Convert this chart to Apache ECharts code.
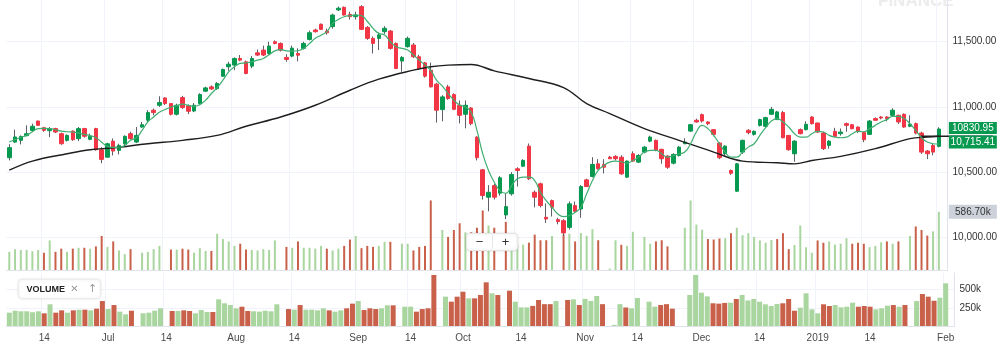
<!DOCTYPE html>
<html>
<head>
<meta charset="utf-8">
<script src="https://cdn.jsdelivr.net/npm/echarts@6/dist/echarts.min.js"></script>
<style>
  html, body { margin: 0; padding: 0; background: #fff; }
  #chart { width: 1000px; height: 351px; }
</style>
</head>
<body>
<div id="chart"></div>
<script>
// daily bars, oldest first
const openP = [10611,10731,10744,10780,10820,10892,10841,10818,10834,10795,10744,10815,10757,10834,10752,10834,10672,10615,10738,10667,
  10718,10795,10731,10846,10898,10975,11013,11069,11026,10944,11072,11011,10969,11026,11121,11154,11141,11236,11308,11321,
  11372,11346,11313,11415,11436,11410,11500,11487,11380,11390,11410,11449,11518,11590,11634,11582,11616,11744,11764,11710,
  11692,11769,11610,11526,11526,11577,11582,11487,11352,11462,11475,11385,11338,11282,11175,10980,11154,11095,11013,10944,
  10992,10769,10518,10308,10397,10339,10172,10334,10526,10546,10700,10346,10411,10154,10282,10136,10128,10077,10244,10218,
  10441,10467,10564,10559,10615,10621,10615,10462,10641,10577,10654,10738,10744,10675,10623,10569,10628,10718,10815,10898,
  10941,10885,10826,10723,10641,10513,10354,10654,10821,10790,10859,10852,10944,10903,10957,10782,10641,10826,10826,10923,
  10877,10800,10705,10813,10795,10872,10864,10846,10805,10790,10911,10923,10923,10936,10936,10944,10852,10872,10800,10662,
  10705,10698];
const closeP = [10688,10770,10774,10795,10852,10859,10821,10834,10808,10718,10782,10749,10834,10775,10775,10672,10598,10718,10662,10705,
  10775,10757,10782,10864,10957,10957,11034,11026,10944,11013,10995,10967,11013,11095,11146,11138,11180,11287,11328,11372,
  11359,11257,11372,11398,11398,11467,11487,11436,11364,11451,11397,11487,11569,11577,11595,11569,11705,11757,11705,11692,
  11705,11595,11526,11487,11552,11603,11449,11295,11380,11526,11385,11295,11236,11154,10975,11077,11065,10982,10936,11013,
  10872,10611,10321,10346,10308,10457,10236,10482,10513,10590,10449,10308,10244,10141,10231,10121,10034,10257,10200,10390,
  10390,10559,10526,10538,10603,10603,10487,10585,10585,10628,10692,10769,10667,10603,10538,10636,10692,10731,10864,10885,
  10892,10872,10790,10611,10700,10492,10564,10744,10803,10813,10903,10918,10982,10962,10764,10672,10738,10795,10867,10872,
  10808,10680,10738,10775,10808,10859,10833,10813,10749,10892,10898,10915,10911,10975,10885,10846,10867,10800,10654,10641,
  10654,10830.95];
const lowP = [10590,10723,10713,10775,10808,10855,10810,10769,10800,10710,10735,10740,10738,10765,10745,10665,10569,10610,10628,10636,
  10705,10750,10723,10840,10880,10936,11000,11015,10935,10935,10985,10945,10960,11020,11115,11130,11130,11230,11277,11282,
  11350,11250,11297,11390,11390,11400,11480,11425,11346,11380,11350,11440,11510,11570,11590,11555,11600,11735,11700,11670,
  11670,11590,11515,11410,11437,11560,11440,11290,11270,11455,11375,11285,11225,11150,10880,10890,11055,10975,10874,10836,
  10860,10590,10290,10200,10290,10320,10140,10320,10390,10540,10440,10230,10230,10110,10160,10100,10012,10060,10190,10150,
  10385,10460,10520,10490,10600,10590,10480,10455,10580,10570,10645,10730,10660,10565,10525,10560,10620,10715,10810,10880,
  10880,10860,10775,10600,10630,10480,10350,10640,10790,10780,10850,10845,10940,10900,10760,10665,10580,10790,10820,10865,
  10800,10670,10680,10770,10780,10810,10830,10800,10730,10785,10895,10905,10890,10930,10870,10840,10845,10790,10640,10600,
  10630,10690];
const highP = [10715,10826,10782,10859,10872,10895,10848,10846,10840,10803,10790,10820,10846,10840,10795,10840,10692,10725,10759,10718,
  10782,10810,10846,10885,10975,10988,11082,11075,11030,11025,11085,11020,11030,11105,11155,11165,11190,11295,11346,11380,
  11398,11355,11390,11440,11470,11500,11510,11495,11405,11470,11450,11500,11585,11600,11640,11600,11715,11770,11770,11730,
  11730,11780,11620,11540,11570,11620,11590,11495,11390,11540,11490,11400,11345,11340,11185,11090,11170,11105,11050,11050,
  11000,10775,10525,10400,10410,10470,10334,10500,10538,10600,10720,10360,10420,10260,10290,10150,10140,10275,10275,10400,
  10450,10615,10600,10600,10625,10630,10630,10590,10660,10640,10700,10780,10750,10680,10630,10645,10700,10760,10870,10910,
  10950,10890,10830,10730,10705,10520,10570,10750,10830,10820,10910,10925,11000,10970,10970,10785,10745,10835,10890,10930,
  10880,10810,10745,10840,10835,10880,10870,10850,10810,10900,10920,10930,10930,10990,10940,10950,10936,10880,10810,10670,
  10720,10845];
// volume in thousands, 0 = no volume reported
const volume = [183,210,202,202,189,202,174,298,183,215,183,215,224,224,215,238,343,233,288,197,
  160,210,0,174,183,210,243,0,206,206,215,206,174,220,192,192,366,312,288,243,
  265,206,202,197,210,202,298,0,233,224,288,224,224,215,243,215,197,215,243,307,
  343,220,243,233,243,284,284,0,265,265,197,233,243,701,0,403,334,403,471,380,
  380,426,600,449,426,0,485,334,256,256,276,357,300,300,343,0,357,366,288,373,
  345,412,300,0,15,300,254,243,385,0,334,265,288,300,238,0,0,426,701,458,
  407,312,307,317,320,371,426,351,371,334,298,275,302,312,371,210,252,449,229,174,
  298,275,288,256,265,320,265,275,265,229,243,279,288,265,288,0,343,439,403,347,
  389,586.7];
// fast (green) moving average, one value per bar
const maFast = [10731,10750,10768,10782,10810,10834,10836,10834,10825,10815,10810,10808,10800,10790,10780,10764,10730,10698,10690,10692,
  10705,10744,10764,10820,10885,10923,10960,10980,11000,11010,11021,11012,11005,11018,11052,11103,11149,11205,11269,11308,
  11334,11338,11346,11359,11372,11400,11430,11440,11430,11428,11431,11449,11487,11526,11550,11577,11641,11670,11692,11700,
  11705,11700,11657,11603,11564,11552,11500,11462,11449,11436,11398,11359,11321,11280,11205,11160,11103,11052,11015,11000,
  10960,10820,10641,10513,10423,10359,10338,10397,10449,10462,10462,10436,10346,10282,10231,10180,10159,10167,10192,10231,
  10334,10436,10513,10551,10577,10585,10580,10569,10590,10615,10654,10667,10667,10641,10615,10628,10641,10654,10718,10808,
  10859,10834,10782,10718,10654,10615,10615,10654,10692,10718,10782,10841,10892,10911,10885,10846,10795,10769,10769,10795,
  10813,10808,10782,10769,10764,10769,10795,10813,10810,10834,10859,10885,10903,10928,10928,10911,10872,10821,10764,10731,
  10718,10715.41];
// slow (black) moving average, read at these bars
const maSlowIdx = [0,4,10,14,18,24,30,36,41,47,53,59,64,70,73,76,80,84,90,96,100,104,110,116,122,127,133,136,139,144,150,156,159,161];
const maSlowVal = [10515,10585,10641,10672,10687,10718,10744,10782,10852,10923,11013,11128,11213,11282,11308,11321,11326,11277,11218,11149,
  11026,10949,10834,10744,10654,10585,10572,10564,10590,10621,10680,10757,10769,10775];
const tickIdx = [6,17,27,39,49,60,69,78,88,99,108,119,129,139,148,161];
const tickText = ['14','Jul','14','Aug','14','Sep','14','Oct','14','Nov','14','Dec','14','2019','14','Feb'];
const priceTicks = [10000,10500,11000,11500];
const volTicks = [250,500];

const UP = '#089950', DOWN = '#f23645', WICK = '#5d606b';
const VUP = '#a9d59f', VDOWN = '#c8604a';
const FONT = 'Liberation Sans, Arial, sans-serif';

const n = closeP.length;
const cats = [];
for (let i = 0; i <= n; i++) cats.push(String(i)); // one spare slot on the right

const wicks = openP.map((o, i) => [o, closeP[i], lowP[i], highP[i]]);
const bodies = openP.map((o, i) => [o, closeP[i], Math.min(o, closeP[i]), Math.max(o, closeP[i])]);
const volColor = (i) => (i === 0 || closeP[i] >= closeP[i - 1]) ? VUP : VDOWN;
const volOverlay = volume.map((v, i) => ({ value: v, itemStyle: { color: volColor(i) } }));
const volLower = volume.map((v, i) => ({ value: v, itemStyle: { color: volColor(i) } }));
const maSlow = maSlowIdx.map((idx, k) => [cats[idx], maSlowVal[k]]);

const fmt2 = (v) => v.toLocaleString('en-US', { minimumFractionDigits: 2, maximumFractionDigits: 2 });
const showTick = (i) => tickIdx.indexOf(i) >= 0;
const last = cats[n - 1];

const chart = echarts.init(document.getElementById('chart'));
const option = {
  animation: false,
  textStyle: { fontFamily: FONT },
  grid: [
    { left: 6.4, right: 45.6, top: 0, height: 270 },
    { left: 6.4, right: 45.6, top: 273, height: 53 }
  ],
  xAxis: [
    {
      type: 'category', gridIndex: 0, data: cats, boundaryGap: true,
      axisLine: { show: true, lineStyle: { color: '#e0e3eb' } },
      axisTick: { show: false }, axisLabel: { show: false },
      splitLine: { show: true, interval: showTick, lineStyle: { color: '#f0f3fa' } }
    },
    {
      type: 'category', gridIndex: 1, data: cats, boundaryGap: true,
      axisLine: { show: true, lineStyle: { color: '#e0e3eb' } },
      axisTick: { show: false },
      axisLabel: {
        interval: showTick, color: '#4a4a4a', fontSize: 10, margin: 7,
        formatter: (val, i) => tickText[tickIdx.indexOf(i)] || ''
      },
      splitLine: { show: true, interval: showTick, lineStyle: { color: '#f0f3fa' } }
    }
  ],
  yAxis: [
    {
      type: 'value', gridIndex: 0, position: 'right', min: 9750, max: 11820, scale: true,
      axisLine: { show: true, lineStyle: { color: '#e0e3eb' } },
      axisTick: { show: false, customValues: priceTicks },
      axisLabel: { customValues: priceTicks, color: '#333', fontSize: 10, margin: 5, formatter: fmt2 },
      splitLine: { show: true, lineStyle: { color: '#f0f3fa' } }
    },
    {
      type: 'value', gridIndex: 0, position: 'right', min: 0, max: 2722, show: false,
      splitLine: { show: false }
    },
    {
      type: 'value', gridIndex: 1, position: 'right', min: 0, max: 728,
      axisLine: { show: true, lineStyle: { color: '#e0e3eb' } },
      axisTick: { show: false, customValues: volTicks },
      axisLabel: { customValues: volTicks, color: '#333', fontSize: 10, margin: 5, formatter: (v) => v + 'k' },
      splitLine: { show: true, lineStyle: { color: '#f0f3fa' } }
    }
  ],
  series: [
    {
      type: 'bar', xAxisIndex: 0, yAxisIndex: 1, data: volOverlay, barWidth: 2, z: 1,
      markPoint: {
        symbol: 'rect', symbolSize: [48, 14], symbolOffset: [34, 0], silent: true,
        itemStyle: { color: '#cdd1da' },
        label: { show: true, color: '#333', fontSize: 10, formatter: (p) => p.value.toFixed(2) + 'k' },
        data: [{ coord: [last, volume[n - 1]], value: volume[n - 1] }]
      }
    },
    {
      type: 'candlestick', xAxisIndex: 0, yAxisIndex: 0, data: wicks, barWidth: 1, z: 2,
      itemStyle: { color: WICK, color0: WICK, borderColor: WICK, borderColor0: WICK, borderWidth: 1 }
    },
    {
      type: 'candlestick', xAxisIndex: 0, yAxisIndex: 0, data: bodies, barWidth: 4, z: 3,
      itemStyle: { color: UP, color0: DOWN, borderColor: UP, borderColor0: DOWN, borderWidth: 1 }
    },
    {
      type: 'line', xAxisIndex: 0, yAxisIndex: 0, data: maSlow, smooth: 0.4, showSymbol: false, z: 4,
      lineStyle: { color: '#1e1e1e', width: 1.4 },
      markPoint: {
        symbol: 'rect', symbolSize: [72, 1.5], symbolOffset: [18, 0], silent: true,
        itemStyle: { color: '#1e1e1e' }, label: { show: false },
        data: [{ coord: [last, maSlowVal[maSlowVal.length - 1]] }]
      }
    },
    {
      type: 'line', xAxisIndex: 0, yAxisIndex: 0, data: maFast, smooth: true, showSymbol: false, z: 5,
      lineStyle: { color: '#3fae70', width: 1.2 },
      markPoint: {
        symbol: 'rect', symbolSize: [48, 13], silent: true,
        itemStyle: { color: UP },
        label: { show: true, color: '#fff', fontSize: 10, formatter: (p) => fmt2(p.value) },
        data: [{ coord: [last, maFast[n - 1]], value: maFast[n - 1], symbolOffset: [34, -2] }]
      }
    },
    {
      type: 'line', xAxisIndex: 0, yAxisIndex: 0, data: [], z: 6,
      markPoint: {
        symbol: 'rect', symbolSize: [48, 12], silent: true,
        itemStyle: { color: UP },
        label: { show: true, color: '#fff', fontSize: 10, formatter: (p) => p.value.toFixed(2) },
        data: [{ coord: [last, closeP[n - 1]], value: closeP[n - 1], symbolOffset: [34, -1] }]
      }
    },
    {
      type: 'bar', xAxisIndex: 1, yAxisIndex: 2, data: volLower, barWidth: 5
    }
  ],
  graphic: [
    {
      type: 'text', left: 878, top: -7, z: 0, silent: true,
      style: { text: 'FINANCE', fill: '#ececec', font: 'bold 17px ' + FONT }
    },
    {
      type: 'group', left: 466, top: 233, z: 100,
      children: [
        { type: 'rect', z: 100, shape: { x: 0, y: 0, width: 51, height: 17, r: 3 },
          style: { fill: '#fff', stroke: '#e6e6e6', shadowBlur: 3, shadowColor: 'rgba(0,0,0,0.12)' } },
        { type: 'line', z: 101, shape: { x1: 26, y1: 2, x2: 26, y2: 15 }, style: { stroke: '#e6e6e6' } },
        { type: 'text', z: 101, x: 13, y: 8.5, style: { text: '\u2212', fill: '#333', font: '13px ' + FONT, align: 'center', verticalAlign: 'middle' } },
        { type: 'text', z: 101, x: 39, y: 8.5, style: { text: '+', fill: '#333', font: '13px ' + FONT, align: 'center', verticalAlign: 'middle' } }
      ]
    },
    {
      type: 'group', left: 18, top: 279, z: 100,
      children: [
        { type: 'rect', z: 100, shape: { x: 0, y: 0, width: 82, height: 19, r: 3 },
          style: { fill: '#fff', stroke: '#ececec', shadowBlur: 3, shadowColor: 'rgba(0,0,0,0.10)' } },
        { type: 'text', z: 101, x: 8, y: 10, style: { text: 'VOLUME', fill: '#222', font: 'bold 9px ' + FONT, verticalAlign: 'middle' } },
        { type: 'text', z: 101, x: 56, y: 10, style: { text: '\u2715', fill: '#999', font: '10px DejaVu Sans', align: 'center', verticalAlign: 'middle' } },
        { type: 'text', z: 101, x: 74, y: 10, style: { text: '\u2191', fill: '#999', font: '11px DejaVu Sans', align: 'center', verticalAlign: 'middle' } }
      ]
    }
  ]
};
chart.setOption(option);
</script>
</body>
</html>
